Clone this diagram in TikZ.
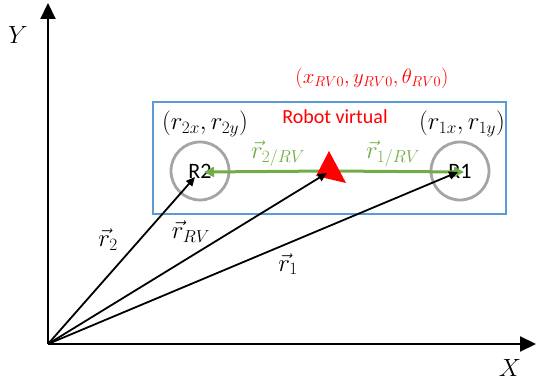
\documentclass[tikz,border=0pt]{standalone}
\usepackage{fontspec}
\setmainfont{Carlito}
\usetikzlibrary{arrows.meta}
\definecolor{boxblue}{HTML}{5B9BD5}
\definecolor{vgreen}{HTML}{70AD47}
\definecolor{cgray}{HTML}{A5A5A5}
\definecolor{vred}{HTML}{FF0000}
\begin{document}
\begin{tikzpicture}[x=1pt,y=-1pt,
  axis/.style={line width=2.2pt,-{Triangle[length=16pt,width=15pt]}},
  vec/.style={line width=1.8pt,-{Triangle[length=9pt,width=8pt]}},
  gvec/.style={line width=3pt,vgreen,-{Triangle[length=10pt,width=10pt]}},
  robot/.style={circle,draw=cgray,line width=2.8pt,minimum size=58pt,inner sep=0pt,font=\fontsize{22}{24}\selectfont},
  lbl/.style={font=\fontsize{23}{26}\selectfont,inner sep=0pt},
  plbl/.style={font=\fontsize{21}{24}\selectfont,inner sep=0pt},
  txt/.style={font=\fontsize{20}{24}\selectfont,inner sep=0pt},
  axlbl/.style={font=\fontsize{26}{28}\selectfont,inner sep=0pt}]
\useasboundingbox (0,0) rectangle (536,382);
% virtual robot frame
\node[draw=boxblue,line width=1.4pt,minimum width=353pt,minimum height=112pt,inner sep=0pt] (box) at (329.5,158) {};
% robots
\node[robot] (R2) at (200,171) {R2};
\node[robot] (R1) at (460,171) {R1};
% coordinates
\coordinate (O) at (48,344);
\coordinate (VC) at (330,171);
\coordinate (T2) at (195,177);
\coordinate (T1) at (458,172);
\coordinate (TV) at (327,173);
\coordinate (G2) at (204,172);
\coordinate (G1) at (464,172);
% axes
\draw[axis] (O) -- (48,3);
\draw[axis] (O) -- (536,344);
\node[axlbl] (ylab) at (18,35) {$Y$};
\node[axlbl] (xlab) at (510,368) {$X$};
% green relative vectors
\draw[gvec] (VC) -- (G2);
\draw[gvec] (VC) -- (G1);
% virtual robot marker
\fill[vred] (329,151) -- (346,183) -- (316,176) -- cycle;
% position vectors
\draw[vec] (O) -- (T2);
\draw[vec] (O) -- (TV);
\draw[vec] (O) -- (T1);
% labels
\node[lbl] (l2) at (108,240) {$\vec r_2$};
\node[lbl] (lrv) at (191,232) {$\vec r_{RV}$};
\node[lbl] (l1) at (288,264) {$\vec r_1$};
\node[lbl,text=vgreen] (l2rv) at (278,154) {$\vec r_{2/RV}$};
\node[lbl,text=vgreen] (l1rv) at (393,154) {$\vec r_{1/RV}$};
\node[lbl] (p2) at (205,124) {$(r_{2x},r_{2y})$};
\node[lbl] (p1) at (462,124) {$(r_{1x},r_{1y})$};
\node[txt,text=vred] (rv) at (335,117) {Robot virtual};
\node[plbl,text=vred] (pose) at (372,78) {$(x_{RV0},y_{RV0},\theta_{RV0})$};
\end{tikzpicture}
\end{document}
